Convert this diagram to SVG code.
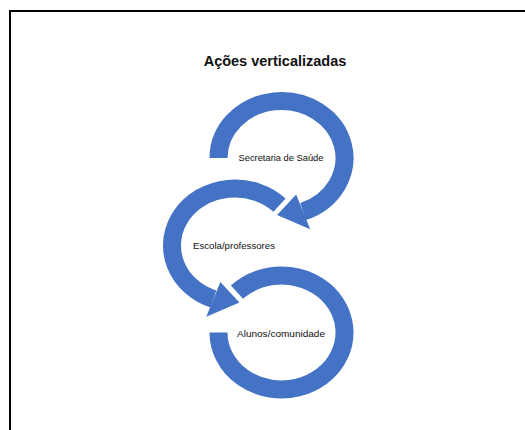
<svg xmlns="http://www.w3.org/2000/svg" width="525" height="430" viewBox="0 0 525 430">
<style>
.band{fill:none;stroke:#4472C4;stroke-width:18;stroke-linecap:butt}
.head{fill:#4472C4}
.lbl{font-family:"Liberation Sans",Arial,sans-serif;font-size:9.5px;fill:#111;text-anchor:middle}
.title{font-family:"Liberation Sans",Arial,sans-serif;font-size:14.5px;font-weight:bold;fill:#111;text-anchor:middle}
</style>
<rect x="10" y="11" width="700" height="700" fill="#fff" stroke="#000" stroke-width="2"/>
<text class="title" x="275" y="66">Ações verticalizadas</text>
<g id="connectors">
  <g id="arrow1">
    <path class="band" d="M218.5 158 A63 57 0 1 1 303.05 211.56"/>
    <polygon class="head" points="296.15,194.4 277.1,214.9 310.2,229.2"/>
  </g>
  <g id="arrow2">
    <path class="band" d="M279.55 205.19 A63 57 0 1 0 213.45 299.06"/>
    <polygon class="head" points="220.35,281.9 239.4,302.4 206.3,316.7"/>
  </g>
  <g id="arrow3">
    <path class="band" d="M236.95 292.19 A63 57 0 1 1 218.5 332.5"/>
  </g>
</g>
<g id="node-secretaria">
  <text class="lbl" x="281" y="160.5" textLength="85" lengthAdjust="spacingAndGlyphs">Secretaria de Saúde</text>
</g>
<g id="node-escola">
  <text class="lbl" x="234" y="249" textLength="82" lengthAdjust="spacingAndGlyphs">Escola/professores</text>
</g>
<g id="node-alunos">
  <text class="lbl" x="281" y="336.5" textLength="88" lengthAdjust="spacingAndGlyphs">Alunos/comunidade</text>
</g>
</svg>
